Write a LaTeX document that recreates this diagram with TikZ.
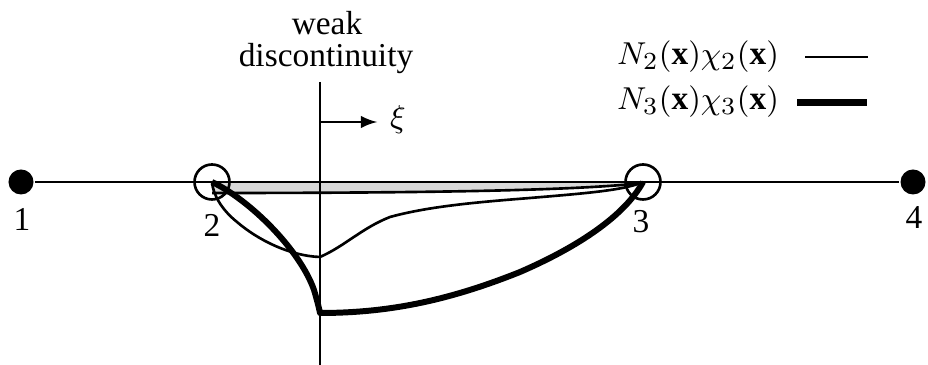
\documentclass[tikz,border=0pt]{standalone}
\usepackage{fontspec}
\setmainfont{Liberation Serif}
\begin{document}
\begin{tikzpicture}[x=0.01cm, y=-0.01cm, line width=0.75pt,
    every node/.style={font=\fontsize{9.5}{11}\selectfont},
    fullnode/.style={circle, fill, inner sep=0pt, minimum size=0.25cm},
    opennode/.style={circle, draw, inner sep=0pt, minimum size=0.35cm},
    thickcurve/.style={line width=1.7pt, line join=round}]
  \useasboundingbox (0,0) rectangle (928,365);
  % element band between nodes 2 and 3
  \fill[black!15] (212,182) -- (643,182) .. controls (580,190) and (450,193) .. (212,193) -- cycle;
  \draw (212,193) .. controls (450,193) and (580,190) .. (643,183);
  % nodes
  \node[fullnode] (n1) at (21,182) {};
  \node[opennode] (n2) at (212,182) {};
  \node[opennode] (n3) at (643,182) {};
  \node[fullnode] (n4) at (913,182) {};
  \draw (n1) -- (n4);
  \node at (22,219) {1};
  \node at (212,225) {2};
  \node at (641,222) {3};
  \node at (914,218) {4};
  % weak discontinuity
  \node[anchor=base] (weak) at (327,35) {weak};
  \node[anchor=base] (disc) at (326,67) {discontinuity};
  \coordinate (top) at (320,82);
  \coordinate (bot) at (320,365);
  \draw (top) -- (bot);
  \coordinate (xs) at (321,122);
  \node (xi) at (398,120) {$\xi$};
  \draw[line width=0.6pt, -latex] (xs) -- (xs -| xi.west);
  % N2 chi2
  \draw (n2.center) .. controls (213,195) and (222,210) .. (237,222)
    .. controls (258,240) and (290,256) .. (320,257)
    .. controls (345,246) and (362,228) .. (390,217)
    .. controls (430,206) and (480,202) .. (530,198)
    .. controls (590,193) and (625,190) .. (n3.center);
  % N3 chi3
  \draw[thickcurve] (n2.center) .. controls (250,200) and (300,250) .. (314,290)
    .. controls (317,300) and (319,308) .. (320,313)
    .. controls (390,313) and (450,300) .. (520,272)
    .. controls (580,246) and (625,215) .. (n3.center);
  % legend
  \node[anchor=base east] (leg2) at (792,65) {$N_2(\mathbf{x})\chi_2(\mathbf{x})$};
  \node[anchor=base east] (leg3) at (792,110) {$N_3(\mathbf{x})\chi_3(\mathbf{x})$};
  \draw ([xshift=0.13cm]leg2.east) -- ++(63,0);
  \draw[line width=2pt] ([xshift=0.05cm]leg3.east) -- ++(70,0);
\end{tikzpicture}
\end{document}
